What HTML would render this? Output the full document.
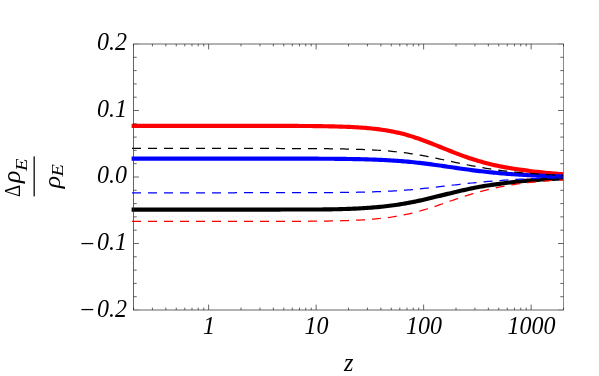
<!DOCTYPE html>
<html><head><meta charset="utf-8"><title>plot</title>
<style>
html,body{margin:0;padding:0;background:#fff;}
body{width:599px;height:376px;overflow:hidden;position:relative;font-family:"Liberation Serif",serif;}
svg{position:absolute;left:0;top:0;display:block;}
.t,.t text{font-family:"Liberation Serif",serif;}
</style>
</head><body>
<svg width="599" height="376" viewBox="0 0 599 376">
<defs><filter id="g" filterUnits="userSpaceOnUse" x="0" y="0" width="599" height="376"><feOffset dx="0" dy="0"/></filter></defs>
<rect x="0" y="0" width="599" height="376" fill="#fff"/>
<g fill="none" stroke-linejoin="round" stroke-linecap="butt">
<path d="M131.60,209.65 L133.60,209.65 L135.60,209.65 L137.60,209.65 L139.60,209.65 L141.60,209.65 L143.60,209.65 L145.60,209.65 L147.60,209.65 L149.60,209.65 L151.60,209.65 L153.60,209.65 L155.60,209.65 L157.60,209.65 L159.60,209.65 L161.60,209.65 L163.60,209.65 L165.60,209.65 L167.60,209.65 L169.60,209.65 L171.60,209.65 L173.60,209.65 L175.60,209.65 L177.60,209.65 L179.60,209.65 L181.60,209.65 L183.60,209.65 L185.60,209.65 L187.60,209.65 L189.60,209.65 L191.60,209.65 L193.60,209.65 L195.60,209.65 L197.60,209.65 L199.60,209.64 L201.60,209.64 L203.60,209.64 L205.60,209.64 L207.60,209.64 L209.60,209.64 L211.60,209.64 L213.60,209.64 L215.60,209.64 L217.60,209.64 L219.60,209.64 L221.60,209.64 L223.60,209.64 L225.60,209.64 L227.60,209.64 L229.60,209.63 L231.60,209.63 L233.60,209.63 L235.60,209.63 L237.60,209.63 L239.60,209.63 L241.60,209.63 L243.60,209.62 L245.60,209.62 L247.60,209.62 L249.60,209.62 L251.60,209.62 L253.60,209.61 L255.60,209.61 L257.60,209.61 L259.60,209.60 L261.60,209.60 L263.60,209.60 L265.60,209.59 L267.60,209.59 L269.60,209.58 L271.60,209.58 L273.60,209.57 L275.60,209.57 L277.60,209.56 L279.60,209.56 L281.60,209.55 L283.60,209.54 L285.60,209.54 L287.60,209.54 L289.60,209.54 L291.60,209.53 L293.60,209.53 L295.60,209.53 L297.60,209.53 L299.60,209.53 L301.60,209.53 L303.60,209.53 L305.60,209.53 L307.60,209.52 L309.60,209.52 L311.60,209.52 L313.60,209.51 L315.60,209.50 L317.60,209.49 L319.60,209.48 L321.60,209.46 L323.60,209.44 L325.60,209.42 L327.60,209.39 L329.60,209.36 L331.60,209.33 L333.60,209.29 L335.60,209.25 L337.60,209.20 L339.60,209.15 L341.60,209.09 L343.60,209.03 L345.60,208.97 L347.60,208.90 L349.60,208.82 L351.60,208.74 L353.60,208.66 L355.60,208.56 L357.60,208.47 L359.60,208.36 L361.60,208.25 L363.60,208.14 L365.60,208.01 L367.60,207.88 L369.60,207.74 L371.60,207.59 L373.60,207.43 L375.60,207.26 L377.60,207.08 L379.60,206.90 L381.60,206.70 L383.60,206.49 L385.60,206.27 L387.60,206.03 L389.60,205.79 L391.60,205.53 L393.60,205.27 L395.60,204.99 L397.60,204.69 L399.60,204.39 L401.60,204.07 L403.60,203.73 L405.60,203.38 L407.60,203.02 L409.60,202.65 L411.60,202.26 L413.60,201.86 L415.60,201.45 L417.60,201.03 L419.60,200.60 L421.60,200.15 L423.60,199.70 L425.60,199.24 L427.60,198.77 L429.60,198.30 L431.60,197.82 L433.60,197.33 L435.60,196.85 L437.60,196.35 L439.60,195.86 L441.60,195.37 L443.60,194.88 L445.60,194.38 L447.60,193.89 L449.60,193.40 L451.60,192.92 L453.60,192.44 L455.60,191.96 L457.60,191.49 L459.60,191.02 L461.60,190.56 L463.60,190.11 L465.60,189.67 L467.60,189.24 L469.60,188.81 L471.60,188.39 L473.60,187.99 L475.60,187.59 L477.60,187.20 L479.60,186.82 L481.60,186.46 L483.60,186.12 L485.60,185.80 L487.60,185.49 L489.60,185.20 L491.60,184.92 L493.60,184.65 L495.60,184.38 L497.60,184.11 L499.60,183.84 L501.60,183.56 L503.60,183.30 L505.60,183.04 L507.60,182.79 L509.60,182.55 L511.60,182.32 L513.60,182.09 L515.60,181.87 L517.60,181.66 L519.60,181.46 L521.60,181.26 L523.60,181.06 L525.60,180.87 L527.60,180.68 L529.60,180.50 L531.60,180.33 L533.60,180.16 L535.60,179.99 L537.60,179.84 L539.60,179.69 L541.60,179.55 L543.60,179.41 L545.60,179.28 L547.60,179.16 L549.60,179.04 L551.60,178.92 L553.60,178.81 L555.60,178.70 L557.60,178.60 L559.60,178.50 L561.60,178.41 L563.20,178.33" stroke="#000" stroke-width="4.15"/>
<path d="M131.60,125.80 L133.60,125.80 L135.60,125.80 L137.60,125.80 L139.60,125.80 L141.60,125.80 L143.60,125.80 L145.60,125.80 L147.60,125.80 L149.60,125.80 L151.60,125.80 L153.60,125.80 L155.60,125.80 L157.60,125.80 L159.60,125.80 L161.60,125.80 L163.60,125.80 L165.60,125.80 L167.60,125.80 L169.60,125.80 L171.60,125.80 L173.60,125.80 L175.60,125.80 L177.60,125.80 L179.60,125.80 L181.60,125.80 L183.60,125.80 L185.60,125.80 L187.60,125.80 L189.60,125.80 L191.60,125.80 L193.60,125.80 L195.60,125.80 L197.60,125.80 L199.60,125.80 L201.60,125.80 L203.60,125.80 L205.60,125.80 L207.60,125.80 L209.60,125.80 L211.60,125.80 L213.60,125.80 L215.60,125.80 L217.60,125.81 L219.60,125.81 L221.60,125.81 L223.60,125.81 L225.60,125.81 L227.60,125.81 L229.60,125.81 L231.60,125.81 L233.60,125.81 L235.60,125.81 L237.60,125.81 L239.60,125.81 L241.60,125.81 L243.60,125.82 L245.60,125.82 L247.60,125.82 L249.60,125.82 L251.60,125.82 L253.60,125.82 L255.60,125.82 L257.60,125.83 L259.60,125.83 L261.60,125.83 L263.60,125.83 L265.60,125.84 L267.60,125.84 L269.60,125.84 L271.60,125.85 L273.60,125.85 L275.60,125.86 L277.60,125.86 L279.60,125.87 L281.60,125.87 L283.60,125.88 L285.60,125.88 L287.60,125.89 L289.60,125.90 L291.60,125.91 L293.60,125.92 L295.60,125.93 L297.60,125.94 L299.60,125.95 L301.60,125.96 L303.60,125.98 L305.60,125.99 L307.60,126.01 L309.60,126.03 L311.60,126.05 L313.60,126.07 L315.60,126.09 L317.60,126.11 L319.60,126.14 L321.60,126.17 L323.60,126.20 L325.60,126.23 L327.60,126.27 L329.60,126.31 L331.60,126.35 L333.60,126.40 L335.60,126.45 L337.60,126.51 L339.60,126.56 L341.60,126.63 L343.60,126.70 L345.60,126.77 L347.60,126.85 L349.60,126.94 L351.60,127.04 L353.60,127.14 L355.60,127.25 L357.60,127.36 L359.60,127.49 L361.60,127.63 L363.60,127.78 L365.60,127.94 L367.60,128.11 L369.60,128.29 L371.60,128.49 L373.60,128.70 L375.60,128.92 L377.60,129.16 L379.60,129.42 L381.60,129.70 L383.60,129.99 L385.60,130.30 L387.60,130.63 L389.60,130.98 L391.60,131.36 L393.60,131.75 L395.60,132.17 L397.60,132.61 L399.60,133.07 L401.60,133.55 L403.60,134.07 L405.60,134.60 L407.60,135.17 L409.60,135.76 L411.60,136.37 L413.60,137.00 L415.60,137.66 L417.60,138.33 L419.60,139.03 L421.60,139.74 L423.60,140.47 L425.60,141.21 L427.60,141.97 L429.60,142.74 L431.60,143.52 L433.60,144.31 L435.60,145.11 L437.60,145.91 L439.60,146.72 L441.60,147.52 L443.60,148.33 L445.60,149.14 L447.60,149.95 L449.60,150.75 L451.60,151.55 L453.60,152.34 L455.60,153.11 L457.60,153.88 L459.60,154.63 L461.60,155.36 L463.60,156.09 L465.60,156.80 L467.60,157.49 L469.60,158.17 L471.60,158.83 L473.60,159.47 L475.60,160.09 L477.60,160.70 L479.60,161.29 L481.60,161.86 L483.60,162.41 L485.60,162.95 L487.60,163.47 L489.60,163.97 L491.60,164.46 L493.60,164.93 L495.60,165.38 L497.60,165.81 L499.60,166.23 L501.60,166.63 L503.60,167.01 L505.60,167.37 L507.60,167.73 L509.60,168.06 L511.60,168.39 L513.60,168.70 L515.60,169.00 L517.60,169.30 L519.60,169.58 L521.60,169.86 L523.60,170.13 L525.60,170.41 L527.60,170.68 L529.60,170.94 L531.60,171.20 L533.60,171.45 L535.60,171.69 L537.60,171.92 L539.60,172.15 L541.60,172.36 L543.60,172.56 L545.60,172.76 L547.60,172.95 L549.60,173.14 L551.60,173.32 L553.60,173.49 L555.60,173.65 L557.60,173.81 L559.60,173.97 L561.60,174.11 L563.20,174.23" stroke="#f00" stroke-width="4.15"/>
<path d="M131.60,158.55 L133.60,158.55 L135.60,158.55 L137.60,158.55 L139.60,158.55 L141.60,158.55 L143.60,158.55 L145.60,158.55 L147.60,158.55 L149.60,158.55 L151.60,158.55 L153.60,158.55 L155.60,158.55 L157.60,158.55 L159.60,158.55 L161.60,158.55 L163.60,158.55 L165.60,158.55 L167.60,158.55 L169.60,158.55 L171.60,158.55 L173.60,158.55 L175.60,158.55 L177.60,158.55 L179.60,158.55 L181.60,158.55 L183.60,158.55 L185.60,158.55 L187.60,158.55 L189.60,158.55 L191.60,158.55 L193.60,158.55 L195.60,158.55 L197.60,158.55 L199.60,158.55 L201.60,158.55 L203.60,158.55 L205.60,158.55 L207.60,158.55 L209.60,158.55 L211.60,158.55 L213.60,158.55 L215.60,158.55 L217.60,158.55 L219.60,158.55 L221.60,158.55 L223.60,158.55 L225.60,158.55 L227.60,158.55 L229.60,158.56 L231.60,158.56 L233.60,158.56 L235.60,158.56 L237.60,158.56 L239.60,158.56 L241.60,158.56 L243.60,158.56 L245.60,158.56 L247.60,158.56 L249.60,158.56 L251.60,158.56 L253.60,158.56 L255.60,158.56 L257.60,158.56 L259.60,158.57 L261.60,158.57 L263.60,158.57 L265.60,158.57 L267.60,158.57 L269.60,158.57 L271.60,158.57 L273.60,158.58 L275.60,158.58 L277.60,158.58 L279.60,158.58 L281.60,158.59 L283.60,158.59 L285.60,158.59 L287.60,158.59 L289.60,158.60 L291.60,158.60 L293.60,158.61 L295.60,158.61 L297.60,158.61 L299.60,158.62 L301.60,158.62 L303.60,158.63 L305.60,158.64 L307.60,158.64 L309.60,158.65 L311.60,158.66 L313.60,158.67 L315.60,158.68 L317.60,158.69 L319.60,158.70 L321.60,158.71 L323.60,158.72 L325.60,158.73 L327.60,158.75 L329.60,158.76 L331.60,158.78 L333.60,158.80 L335.60,158.81 L337.60,158.83 L339.60,158.86 L341.60,158.88 L343.60,158.90 L345.60,158.93 L347.60,158.96 L349.60,158.99 L351.60,159.02 L353.60,159.06 L355.60,159.10 L357.60,159.14 L359.60,159.18 L361.60,159.23 L363.60,159.28 L365.60,159.33 L367.60,159.39 L369.60,159.45 L371.60,159.51 L373.60,159.58 L375.60,159.66 L377.60,159.74 L379.60,159.82 L381.60,159.91 L383.60,160.01 L385.60,160.11 L387.60,160.21 L389.60,160.33 L391.60,160.45 L393.60,160.57 L395.60,160.71 L397.60,160.85 L399.60,161.00 L401.60,161.15 L403.60,161.32 L405.60,161.49 L407.60,161.67 L409.60,161.86 L411.60,162.05 L413.60,162.25 L415.60,162.47 L417.60,162.69 L419.60,162.91 L421.60,163.15 L423.60,163.39 L425.60,163.64 L427.60,163.89 L429.60,164.15 L431.60,164.42 L433.60,164.69 L435.60,164.96 L437.60,165.24 L439.60,165.53 L441.60,165.82 L443.60,166.10 L445.60,166.40 L447.60,166.69 L449.60,166.98 L451.60,167.27 L453.60,167.56 L455.60,167.86 L457.60,168.14 L459.60,168.43 L461.60,168.71 L463.60,169.00 L465.60,169.27 L467.60,169.54 L469.60,169.81 L471.60,170.08 L473.60,170.34 L475.60,170.59 L477.60,170.84 L479.60,171.08 L481.60,171.31 L483.60,171.54 L485.60,171.77 L487.60,171.98 L489.60,172.20 L491.60,172.40 L493.60,172.60 L495.60,172.79 L497.60,172.98 L499.60,173.16 L501.60,173.34 L503.60,173.51 L505.60,173.67 L507.60,173.83 L509.60,173.98 L511.60,174.12 L513.60,174.27 L515.60,174.40 L517.60,174.53 L519.60,174.66 L521.60,174.78 L523.60,174.90 L525.60,175.01 L527.60,175.12 L529.60,175.22 L531.60,175.32 L533.60,175.42 L535.60,175.51 L537.60,175.60 L539.60,175.68 L541.60,175.76 L543.60,175.84 L545.60,175.92 L547.60,175.99 L549.60,176.06 L551.60,176.12 L553.60,176.19 L555.60,176.25 L557.60,176.31 L559.60,176.36 L561.60,176.42 L563.20,176.46" stroke="#00f" stroke-width="4.15"/>
<path d="M132.00,148.45 L134.00,148.45 L136.00,148.45 L138.00,148.45 L140.00,148.45 L142.00,148.45 L144.00,148.45 L146.00,148.45 L148.00,148.45 L150.00,148.45 L152.00,148.45 L154.00,148.45 L156.00,148.45 L158.00,148.45 L160.00,148.45 L162.00,148.45 L164.00,148.45 L166.00,148.45 L168.00,148.45 L170.00,148.45 L172.00,148.45 L174.00,148.45 L176.00,148.45 L178.00,148.45 L180.00,148.45 L182.00,148.45 L184.00,148.45 L186.00,148.45 L188.00,148.45 L190.00,148.45 L192.00,148.45 L194.00,148.45 L196.00,148.45 L198.00,148.45 L200.00,148.45 L202.00,148.45 L204.00,148.45 L206.00,148.45 L208.00,148.45 L210.00,148.45 L212.00,148.45 L214.00,148.45 L216.00,148.45 L218.00,148.45 L220.00,148.45 L222.00,148.46 L224.00,148.46 L226.00,148.46 L228.00,148.46 L230.00,148.46 L232.00,148.46 L234.00,148.46 L236.00,148.46 L238.00,148.46 L240.00,148.46 L242.00,148.46 L244.00,148.46 L246.00,148.46 L248.00,148.46 L250.00,148.46 L252.00,148.47 L254.00,148.47 L256.00,148.47 L258.00,148.47 L260.00,148.47 L262.00,148.47 L264.00,148.48 L266.00,148.48 L268.00,148.48 L270.00,148.48 L272.00,148.48 L274.00,148.49 L276.00,148.49 L278.00,148.49 L280.00,148.50 L282.00,148.50 L284.00,148.50 L286.00,148.51 L288.00,148.51 L290.00,148.52 L292.00,148.52 L294.00,148.53 L296.00,148.54 L298.00,148.54 L300.00,148.55 L302.00,148.56 L304.00,148.57 L306.00,148.58 L308.00,148.59 L310.00,148.60 L312.00,148.61 L314.00,148.62 L316.00,148.63 L318.00,148.65 L320.00,148.66 L322.00,148.68 L324.00,148.70 L326.00,148.72 L328.00,148.74 L330.00,148.76 L332.00,148.79 L334.00,148.81 L336.00,148.84 L338.00,148.87 L340.00,148.90 L342.00,148.94 L344.00,148.98 L346.00,149.02 L348.00,149.06 L350.00,149.11 L352.00,149.16 L354.00,149.21 L356.00,149.27 L358.00,149.33 L360.00,149.40 L362.00,149.47 L364.00,149.55 L366.00,149.63 L368.00,149.72 L370.00,149.81 L372.00,149.91 L374.00,150.02 L376.00,150.13 L378.00,150.25 L380.00,150.38 L382.00,150.52 L384.00,150.67 L386.00,150.82 L388.00,150.99 L390.00,151.16 L392.00,151.35 L394.00,151.54 L396.00,151.75 L398.00,151.96 L400.00,152.19 L402.00,152.43 L404.00,152.68 L406.00,152.95 L408.00,153.22 L410.00,153.51 L412.00,153.81 L414.00,154.12 L416.00,154.44 L418.00,154.78 L420.00,155.12 L422.00,155.48 L424.00,155.84 L426.00,156.22 L428.00,156.61 L430.00,157.00 L432.00,157.40 L434.00,157.81 L436.00,158.22 L438.00,158.64 L440.00,159.07 L442.00,159.49 L444.00,159.93 L446.00,160.36 L448.00,160.79 L450.00,161.23 L452.00,161.66 L454.00,162.09 L456.00,162.52 L458.00,162.94 L460.00,163.37 L462.00,163.78 L464.00,164.20 L466.00,164.60 L468.00,165.00 L470.00,165.40 L472.00,165.79 L474.00,166.16 L476.00,166.54 L478.00,166.90 L480.00,167.25 L482.00,167.60 L484.00,167.94 L486.00,168.27 L488.00,168.59 L490.00,168.90 L492.00,169.21 L494.00,169.50 L496.00,169.79 L498.00,170.06 L500.00,170.33 L502.00,170.59 L504.00,170.84 L506.00,171.09 L508.00,171.32 L510.00,171.55 L512.00,171.77 L514.00,171.99 L516.00,172.19 L518.00,172.39 L520.00,172.58 L522.00,172.77 L524.00,172.94 L526.00,173.12 L528.00,173.28 L530.00,173.44 L532.00,173.60 L534.00,173.74 L536.00,173.89 L538.00,174.03 L540.00,174.16 L542.00,174.29 L544.00,174.41 L546.00,174.53 L548.00,174.64 L550.00,174.75 L552.00,174.86 L554.00,174.96 L556.00,175.06 L558.00,175.15 L560.00,175.24 L562.00,175.33 L563.20,175.38" stroke="#000" stroke-width="1.25" stroke-dasharray="9 7"/>
<path d="M132.00,192.75 L134.00,192.75 L136.00,192.75 L138.00,192.75 L140.00,192.75 L142.00,192.75 L144.00,192.75 L146.00,192.75 L148.00,192.75 L150.00,192.75 L152.00,192.75 L154.00,192.75 L156.00,192.75 L158.00,192.75 L160.00,192.75 L162.00,192.75 L164.00,192.75 L166.00,192.75 L168.00,192.75 L170.00,192.75 L172.00,192.75 L174.00,192.75 L176.00,192.75 L178.00,192.75 L180.00,192.75 L182.00,192.75 L184.00,192.75 L186.00,192.75 L188.00,192.75 L190.00,192.75 L192.00,192.75 L194.00,192.75 L196.00,192.75 L198.00,192.75 L200.00,192.75 L202.00,192.75 L204.00,192.75 L206.00,192.75 L208.00,192.75 L210.00,192.75 L212.00,192.75 L214.00,192.75 L216.00,192.75 L218.00,192.75 L220.00,192.75 L222.00,192.75 L224.00,192.75 L226.00,192.75 L228.00,192.75 L230.00,192.75 L232.00,192.75 L234.00,192.75 L236.00,192.74 L238.00,192.74 L240.00,192.74 L242.00,192.74 L244.00,192.74 L246.00,192.74 L248.00,192.74 L250.00,192.74 L252.00,192.74 L254.00,192.74 L256.00,192.74 L258.00,192.74 L260.00,192.74 L262.00,192.74 L264.00,192.73 L266.00,192.73 L268.00,192.73 L270.00,192.73 L272.00,192.73 L274.00,192.73 L276.00,192.73 L278.00,192.72 L280.00,192.72 L282.00,192.72 L284.00,192.72 L286.00,192.72 L288.00,192.71 L290.00,192.71 L292.00,192.71 L294.00,192.70 L296.00,192.70 L298.00,192.69 L300.00,192.69 L302.00,192.69 L304.00,192.68 L306.00,192.67 L308.00,192.67 L310.00,192.66 L312.00,192.66 L314.00,192.65 L316.00,192.64 L318.00,192.63 L320.00,192.62 L322.00,192.61 L324.00,192.60 L326.00,192.59 L328.00,192.58 L330.00,192.56 L332.00,192.55 L334.00,192.53 L336.00,192.52 L338.00,192.50 L340.00,192.48 L342.00,192.46 L344.00,192.43 L346.00,192.41 L348.00,192.38 L350.00,192.36 L352.00,192.32 L354.00,192.29 L356.00,192.26 L358.00,192.22 L360.00,192.18 L362.00,192.14 L364.00,192.09 L366.00,192.04 L368.00,191.99 L370.00,191.93 L372.00,191.87 L374.00,191.81 L376.00,191.74 L378.00,191.67 L380.00,191.59 L382.00,191.51 L384.00,191.42 L386.00,191.33 L388.00,191.23 L390.00,191.13 L392.00,191.02 L394.00,190.91 L396.00,190.79 L398.00,190.66 L400.00,190.53 L402.00,190.39 L404.00,190.24 L406.00,190.09 L408.00,189.93 L410.00,189.76 L412.00,189.59 L414.00,189.41 L416.00,189.23 L418.00,189.04 L420.00,188.84 L422.00,188.64 L424.00,188.44 L426.00,188.22 L428.00,188.01 L430.00,187.79 L432.00,187.57 L434.00,187.34 L436.00,187.11 L438.00,186.88 L440.00,186.65 L442.00,186.41 L444.00,186.18 L446.00,185.94 L448.00,185.70 L450.00,185.47 L452.00,185.23 L454.00,185.00 L456.00,184.77 L458.00,184.53 L460.00,184.31 L462.00,184.08 L464.00,183.86 L466.00,183.64 L468.00,183.42 L470.00,183.21 L472.00,183.00 L474.00,182.79 L476.00,182.59 L478.00,182.39 L480.00,182.20 L482.00,182.01 L484.00,181.83 L486.00,181.65 L488.00,181.47 L490.00,181.30 L492.00,181.13 L494.00,180.97 L496.00,180.81 L498.00,180.66 L500.00,180.51 L502.00,180.36 L504.00,180.22 L506.00,180.08 L508.00,179.95 L510.00,179.82 L512.00,179.70 L514.00,179.57 L516.00,179.46 L518.00,179.34 L520.00,179.23 L522.00,179.13 L524.00,179.02 L526.00,178.92 L528.00,178.82 L530.00,178.73 L532.00,178.64 L534.00,178.55 L536.00,178.47 L538.00,178.38 L540.00,178.31 L542.00,178.23 L544.00,178.15 L546.00,178.08 L548.00,178.01 L550.00,177.94 L552.00,177.88 L554.00,177.82 L556.00,177.76 L558.00,177.70 L560.00,177.64 L562.00,177.59 L563.20,177.55" stroke="#00f" stroke-width="1.25" stroke-dasharray="9 7"/>
<path d="M132.00,221.45 L134.00,221.45 L136.00,221.45 L138.00,221.45 L140.00,221.45 L142.00,221.45 L144.00,221.45 L146.00,221.45 L148.00,221.45 L150.00,221.45 L152.00,221.45 L154.00,221.45 L156.00,221.45 L158.00,221.45 L160.00,221.45 L162.00,221.45 L164.00,221.45 L166.00,221.45 L168.00,221.45 L170.00,221.45 L172.00,221.45 L174.00,221.45 L176.00,221.45 L178.00,221.45 L180.00,221.45 L182.00,221.45 L184.00,221.45 L186.00,221.45 L188.00,221.45 L190.00,221.45 L192.00,221.45 L194.00,221.45 L196.00,221.45 L198.00,221.45 L200.00,221.45 L202.00,221.45 L204.00,221.45 L206.00,221.45 L208.00,221.45 L210.00,221.45 L212.00,221.45 L214.00,221.44 L216.00,221.44 L218.00,221.44 L220.00,221.44 L222.00,221.44 L224.00,221.44 L226.00,221.44 L228.00,221.44 L230.00,221.44 L232.00,221.44 L234.00,221.44 L236.00,221.44 L238.00,221.44 L240.00,221.44 L242.00,221.43 L244.00,221.43 L246.00,221.43 L248.00,221.43 L250.00,221.43 L252.00,221.43 L254.00,221.43 L256.00,221.42 L258.00,221.42 L260.00,221.42 L262.00,221.42 L264.00,221.41 L266.00,221.41 L268.00,221.41 L270.00,221.40 L272.00,221.40 L274.00,221.40 L276.00,221.39 L278.00,221.39 L280.00,221.38 L282.00,221.38 L284.00,221.37 L286.00,221.36 L288.00,221.36 L290.00,221.35 L292.00,221.34 L294.00,221.33 L296.00,221.32 L298.00,221.31 L300.00,221.30 L302.00,221.29 L304.00,221.28 L306.00,221.27 L308.00,221.25 L310.00,221.23 L312.00,221.22 L314.00,221.20 L316.00,221.18 L318.00,221.16 L320.00,221.13 L322.00,221.11 L324.00,221.08 L326.00,221.05 L328.00,221.02 L330.00,220.99 L332.00,220.95 L334.00,220.91 L336.00,220.87 L338.00,220.82 L340.00,220.77 L342.00,220.72 L344.00,220.66 L346.00,220.60 L348.00,220.53 L350.00,220.46 L352.00,220.39 L354.00,220.30 L356.00,220.22 L358.00,220.12 L360.00,220.02 L362.00,219.91 L364.00,219.79 L366.00,219.67 L368.00,219.53 L370.00,219.39 L372.00,219.23 L374.00,219.07 L376.00,218.89 L378.00,218.70 L380.00,218.50 L382.00,218.29 L384.00,218.06 L386.00,217.82 L388.00,217.56 L390.00,217.29 L392.00,217.00 L394.00,216.69 L396.00,216.37 L398.00,216.02 L400.00,215.66 L402.00,215.29 L404.00,214.89 L406.00,214.47 L408.00,214.03 L410.00,213.58 L412.00,213.10 L414.00,212.61 L416.00,212.09 L418.00,211.56 L420.00,211.01 L422.00,210.44 L424.00,209.85 L426.00,209.25 L428.00,208.63 L430.00,208.00 L432.00,207.36 L434.00,206.70 L436.00,206.04 L438.00,205.36 L440.00,204.68 L442.00,203.99 L444.00,203.30 L446.00,202.61 L448.00,201.91 L450.00,201.21 L452.00,200.52 L454.00,199.83 L456.00,199.15 L458.00,198.47 L460.00,197.79 L462.00,197.13 L464.00,196.47 L466.00,195.83 L468.00,195.20 L470.00,194.58 L472.00,193.97 L474.00,193.37 L476.00,192.79 L478.00,192.23 L480.00,191.67 L482.00,191.14 L484.00,190.61 L486.00,190.11 L488.00,189.61 L490.00,189.14 L492.00,188.67 L494.00,188.23 L496.00,187.79 L498.00,187.38 L500.00,186.97 L502.00,186.58 L504.00,186.21 L506.00,185.85 L508.00,185.50 L510.00,185.16 L512.00,184.84 L514.00,184.53 L516.00,184.23 L518.00,183.94 L520.00,183.67 L522.00,183.40 L524.00,183.15 L526.00,182.90 L528.00,182.67 L530.00,182.44 L532.00,182.23 L534.00,182.02 L536.00,181.82 L538.00,181.63 L540.00,181.45 L542.00,181.27 L544.00,181.10 L546.00,180.94 L548.00,180.79 L550.00,180.64 L552.00,180.50 L554.00,180.36 L556.00,180.23 L558.00,180.11 L560.00,179.99 L562.00,179.87 L563.20,179.81" stroke="#f00" stroke-width="1.25" stroke-dasharray="9 7"/>
</g>
<line x1="133.50" y1="43.65" x2="133.50" y2="310.35" stroke="#222" stroke-width="0.70"/>
<line x1="563.50" y1="43.65" x2="563.50" y2="310.35" stroke="#585858" stroke-width="0.70"/>
<line x1="133.85" y1="44.00" x2="563.15" y2="44.00" stroke="#222" stroke-width="0.70"/>
<line x1="133.85" y1="310.00" x2="563.15" y2="310.00" stroke="#222" stroke-width="0.70"/>
<line x1="133.50" y1="310.00" x2="133.50" y2="307.60" stroke="#222" stroke-width="0.70"/>
<line x1="133.50" y1="44.00" x2="133.50" y2="46.40" stroke="#222" stroke-width="0.70"/>
<line x1="152.43" y1="310.00" x2="152.43" y2="307.60" stroke="#222" stroke-width="0.70"/>
<line x1="152.43" y1="44.00" x2="152.43" y2="46.40" stroke="#222" stroke-width="0.70"/>
<line x1="165.86" y1="310.00" x2="165.86" y2="307.60" stroke="#222" stroke-width="0.70"/>
<line x1="165.86" y1="44.00" x2="165.86" y2="46.40" stroke="#222" stroke-width="0.70"/>
<line x1="176.28" y1="310.00" x2="176.28" y2="307.60" stroke="#222" stroke-width="0.70"/>
<line x1="176.28" y1="44.00" x2="176.28" y2="46.40" stroke="#222" stroke-width="0.70"/>
<line x1="184.79" y1="310.00" x2="184.79" y2="307.60" stroke="#222" stroke-width="0.70"/>
<line x1="184.79" y1="44.00" x2="184.79" y2="46.40" stroke="#222" stroke-width="0.70"/>
<line x1="191.99" y1="310.00" x2="191.99" y2="307.60" stroke="#222" stroke-width="0.70"/>
<line x1="191.99" y1="44.00" x2="191.99" y2="46.40" stroke="#222" stroke-width="0.70"/>
<line x1="198.22" y1="310.00" x2="198.22" y2="307.60" stroke="#222" stroke-width="0.70"/>
<line x1="198.22" y1="44.00" x2="198.22" y2="46.40" stroke="#222" stroke-width="0.70"/>
<line x1="203.72" y1="310.00" x2="203.72" y2="307.60" stroke="#222" stroke-width="0.70"/>
<line x1="203.72" y1="44.00" x2="203.72" y2="46.40" stroke="#222" stroke-width="0.70"/>
<line x1="208.64" y1="310.00" x2="208.64" y2="304.60" stroke="#222" stroke-width="0.70"/>
<line x1="208.64" y1="44.00" x2="208.64" y2="49.40" stroke="#222" stroke-width="0.70"/>
<line x1="241.00" y1="310.00" x2="241.00" y2="307.60" stroke="#222" stroke-width="0.70"/>
<line x1="241.00" y1="44.00" x2="241.00" y2="46.40" stroke="#222" stroke-width="0.70"/>
<line x1="259.93" y1="310.00" x2="259.93" y2="307.60" stroke="#222" stroke-width="0.70"/>
<line x1="259.93" y1="44.00" x2="259.93" y2="46.40" stroke="#222" stroke-width="0.70"/>
<line x1="273.36" y1="310.00" x2="273.36" y2="307.60" stroke="#222" stroke-width="0.70"/>
<line x1="273.36" y1="44.00" x2="273.36" y2="46.40" stroke="#222" stroke-width="0.70"/>
<line x1="283.78" y1="310.00" x2="283.78" y2="307.60" stroke="#222" stroke-width="0.70"/>
<line x1="283.78" y1="44.00" x2="283.78" y2="46.40" stroke="#222" stroke-width="0.70"/>
<line x1="292.29" y1="310.00" x2="292.29" y2="307.60" stroke="#222" stroke-width="0.70"/>
<line x1="292.29" y1="44.00" x2="292.29" y2="46.40" stroke="#222" stroke-width="0.70"/>
<line x1="299.49" y1="310.00" x2="299.49" y2="307.60" stroke="#222" stroke-width="0.70"/>
<line x1="299.49" y1="44.00" x2="299.49" y2="46.40" stroke="#222" stroke-width="0.70"/>
<line x1="305.72" y1="310.00" x2="305.72" y2="307.60" stroke="#222" stroke-width="0.70"/>
<line x1="305.72" y1="44.00" x2="305.72" y2="46.40" stroke="#222" stroke-width="0.70"/>
<line x1="311.22" y1="310.00" x2="311.22" y2="307.60" stroke="#222" stroke-width="0.70"/>
<line x1="311.22" y1="44.00" x2="311.22" y2="46.40" stroke="#222" stroke-width="0.70"/>
<line x1="316.14" y1="310.00" x2="316.14" y2="304.60" stroke="#222" stroke-width="0.70"/>
<line x1="316.14" y1="44.00" x2="316.14" y2="49.40" stroke="#222" stroke-width="0.70"/>
<line x1="348.50" y1="310.00" x2="348.50" y2="307.60" stroke="#222" stroke-width="0.70"/>
<line x1="348.50" y1="44.00" x2="348.50" y2="46.40" stroke="#222" stroke-width="0.70"/>
<line x1="367.43" y1="310.00" x2="367.43" y2="307.60" stroke="#222" stroke-width="0.70"/>
<line x1="367.43" y1="44.00" x2="367.43" y2="46.40" stroke="#222" stroke-width="0.70"/>
<line x1="380.86" y1="310.00" x2="380.86" y2="307.60" stroke="#222" stroke-width="0.70"/>
<line x1="380.86" y1="44.00" x2="380.86" y2="46.40" stroke="#222" stroke-width="0.70"/>
<line x1="391.28" y1="310.00" x2="391.28" y2="307.60" stroke="#222" stroke-width="0.70"/>
<line x1="391.28" y1="44.00" x2="391.28" y2="46.40" stroke="#222" stroke-width="0.70"/>
<line x1="399.79" y1="310.00" x2="399.79" y2="307.60" stroke="#222" stroke-width="0.70"/>
<line x1="399.79" y1="44.00" x2="399.79" y2="46.40" stroke="#222" stroke-width="0.70"/>
<line x1="406.99" y1="310.00" x2="406.99" y2="307.60" stroke="#222" stroke-width="0.70"/>
<line x1="406.99" y1="44.00" x2="406.99" y2="46.40" stroke="#222" stroke-width="0.70"/>
<line x1="413.22" y1="310.00" x2="413.22" y2="307.60" stroke="#222" stroke-width="0.70"/>
<line x1="413.22" y1="44.00" x2="413.22" y2="46.40" stroke="#222" stroke-width="0.70"/>
<line x1="418.72" y1="310.00" x2="418.72" y2="307.60" stroke="#222" stroke-width="0.70"/>
<line x1="418.72" y1="44.00" x2="418.72" y2="46.40" stroke="#222" stroke-width="0.70"/>
<line x1="423.64" y1="310.00" x2="423.64" y2="304.60" stroke="#222" stroke-width="0.70"/>
<line x1="423.64" y1="44.00" x2="423.64" y2="49.40" stroke="#222" stroke-width="0.70"/>
<line x1="456.00" y1="310.00" x2="456.00" y2="307.60" stroke="#222" stroke-width="0.70"/>
<line x1="456.00" y1="44.00" x2="456.00" y2="46.40" stroke="#222" stroke-width="0.70"/>
<line x1="474.93" y1="310.00" x2="474.93" y2="307.60" stroke="#222" stroke-width="0.70"/>
<line x1="474.93" y1="44.00" x2="474.93" y2="46.40" stroke="#222" stroke-width="0.70"/>
<line x1="488.36" y1="310.00" x2="488.36" y2="307.60" stroke="#222" stroke-width="0.70"/>
<line x1="488.36" y1="44.00" x2="488.36" y2="46.40" stroke="#222" stroke-width="0.70"/>
<line x1="498.78" y1="310.00" x2="498.78" y2="307.60" stroke="#222" stroke-width="0.70"/>
<line x1="498.78" y1="44.00" x2="498.78" y2="46.40" stroke="#222" stroke-width="0.70"/>
<line x1="507.29" y1="310.00" x2="507.29" y2="307.60" stroke="#222" stroke-width="0.70"/>
<line x1="507.29" y1="44.00" x2="507.29" y2="46.40" stroke="#222" stroke-width="0.70"/>
<line x1="514.49" y1="310.00" x2="514.49" y2="307.60" stroke="#222" stroke-width="0.70"/>
<line x1="514.49" y1="44.00" x2="514.49" y2="46.40" stroke="#222" stroke-width="0.70"/>
<line x1="520.72" y1="310.00" x2="520.72" y2="307.60" stroke="#222" stroke-width="0.70"/>
<line x1="520.72" y1="44.00" x2="520.72" y2="46.40" stroke="#222" stroke-width="0.70"/>
<line x1="526.22" y1="310.00" x2="526.22" y2="307.60" stroke="#222" stroke-width="0.70"/>
<line x1="526.22" y1="44.00" x2="526.22" y2="46.40" stroke="#222" stroke-width="0.70"/>
<line x1="531.14" y1="310.00" x2="531.14" y2="304.60" stroke="#222" stroke-width="0.70"/>
<line x1="531.14" y1="44.00" x2="531.14" y2="49.40" stroke="#222" stroke-width="0.70"/>
<line x1="563.50" y1="310.00" x2="563.50" y2="307.60" stroke="#222" stroke-width="0.70"/>
<line x1="563.50" y1="44.00" x2="563.50" y2="46.40" stroke="#222" stroke-width="0.70"/>
<line x1="133.50" y1="310.00" x2="138.90" y2="310.00" stroke="#222" stroke-width="0.70" opacity="0.3"/>
<line x1="563.50" y1="310.00" x2="558.10" y2="310.00" stroke="#222" stroke-width="0.70" opacity="0.3"/>
<line x1="133.50" y1="296.70" x2="136.70" y2="296.70" stroke="#222" stroke-width="0.70"/>
<line x1="563.50" y1="296.70" x2="560.30" y2="296.70" stroke="#222" stroke-width="0.70"/>
<line x1="133.50" y1="283.40" x2="136.70" y2="283.40" stroke="#222" stroke-width="0.70"/>
<line x1="563.50" y1="283.40" x2="560.30" y2="283.40" stroke="#222" stroke-width="0.70"/>
<line x1="133.50" y1="270.10" x2="136.70" y2="270.10" stroke="#222" stroke-width="0.70"/>
<line x1="563.50" y1="270.10" x2="560.30" y2="270.10" stroke="#222" stroke-width="0.70"/>
<line x1="133.50" y1="256.80" x2="136.70" y2="256.80" stroke="#222" stroke-width="0.70"/>
<line x1="563.50" y1="256.80" x2="560.30" y2="256.80" stroke="#222" stroke-width="0.70"/>
<line x1="133.50" y1="243.50" x2="138.90" y2="243.50" stroke="#222" stroke-width="0.70"/>
<line x1="563.50" y1="243.50" x2="558.10" y2="243.50" stroke="#222" stroke-width="0.70"/>
<line x1="133.50" y1="230.20" x2="136.70" y2="230.20" stroke="#222" stroke-width="0.70"/>
<line x1="563.50" y1="230.20" x2="560.30" y2="230.20" stroke="#222" stroke-width="0.70"/>
<line x1="133.50" y1="216.90" x2="136.70" y2="216.90" stroke="#222" stroke-width="0.70"/>
<line x1="563.50" y1="216.90" x2="560.30" y2="216.90" stroke="#222" stroke-width="0.70"/>
<line x1="133.50" y1="203.60" x2="136.70" y2="203.60" stroke="#222" stroke-width="0.70"/>
<line x1="563.50" y1="203.60" x2="560.30" y2="203.60" stroke="#222" stroke-width="0.70"/>
<line x1="133.50" y1="190.30" x2="136.70" y2="190.30" stroke="#222" stroke-width="0.70"/>
<line x1="563.50" y1="190.30" x2="560.30" y2="190.30" stroke="#222" stroke-width="0.70"/>
<line x1="133.50" y1="177.00" x2="138.90" y2="177.00" stroke="#222" stroke-width="0.70"/>
<line x1="563.50" y1="177.00" x2="558.10" y2="177.00" stroke="#222" stroke-width="0.70"/>
<line x1="133.50" y1="163.70" x2="136.70" y2="163.70" stroke="#222" stroke-width="0.70"/>
<line x1="563.50" y1="163.70" x2="560.30" y2="163.70" stroke="#222" stroke-width="0.70"/>
<line x1="133.50" y1="150.40" x2="136.70" y2="150.40" stroke="#222" stroke-width="0.70"/>
<line x1="563.50" y1="150.40" x2="560.30" y2="150.40" stroke="#222" stroke-width="0.70"/>
<line x1="133.50" y1="137.10" x2="136.70" y2="137.10" stroke="#222" stroke-width="0.70"/>
<line x1="563.50" y1="137.10" x2="560.30" y2="137.10" stroke="#222" stroke-width="0.70"/>
<line x1="133.50" y1="123.80" x2="136.70" y2="123.80" stroke="#222" stroke-width="0.70"/>
<line x1="563.50" y1="123.80" x2="560.30" y2="123.80" stroke="#222" stroke-width="0.70"/>
<line x1="133.50" y1="110.50" x2="138.90" y2="110.50" stroke="#222" stroke-width="0.70"/>
<line x1="563.50" y1="110.50" x2="558.10" y2="110.50" stroke="#222" stroke-width="0.70"/>
<line x1="133.50" y1="97.20" x2="136.70" y2="97.20" stroke="#222" stroke-width="0.70"/>
<line x1="563.50" y1="97.20" x2="560.30" y2="97.20" stroke="#222" stroke-width="0.70"/>
<line x1="133.50" y1="83.90" x2="136.70" y2="83.90" stroke="#222" stroke-width="0.70"/>
<line x1="563.50" y1="83.90" x2="560.30" y2="83.90" stroke="#222" stroke-width="0.70"/>
<line x1="133.50" y1="70.60" x2="136.70" y2="70.60" stroke="#222" stroke-width="0.70"/>
<line x1="563.50" y1="70.60" x2="560.30" y2="70.60" stroke="#222" stroke-width="0.70"/>
<line x1="133.50" y1="57.30" x2="136.70" y2="57.30" stroke="#222" stroke-width="0.70"/>
<line x1="563.50" y1="57.30" x2="560.30" y2="57.30" stroke="#222" stroke-width="0.70"/>
<line x1="133.50" y1="44.00" x2="138.90" y2="44.00" stroke="#222" stroke-width="0.70" opacity="0.3"/>
<line x1="563.50" y1="44.00" x2="558.10" y2="44.00" stroke="#222" stroke-width="0.70" opacity="0.3"/>
<g class="t" filter="url(#g)" font-style="italic" font-size="25.4" fill="#000">
<text transform="translate(127.00,50.40) scale(0.945,1)" text-anchor="end">0.2</text>
<text transform="translate(127.00,117.10) scale(0.945,1)" text-anchor="end">0.1</text>
<text transform="translate(127.00,183.10) scale(0.945,1)" text-anchor="end">0.0</text>
<text transform="translate(78.50,251.60) scale(1.000,1)" text-anchor="start">−</text>
<text transform="translate(127.00,250.10) scale(0.945,1)" text-anchor="end">0.1</text>
<text transform="translate(78.50,318.10) scale(1.000,1)" text-anchor="start">−</text>
<text transform="translate(127.00,316.60) scale(0.945,1)" text-anchor="end">0.2</text>
<text transform="translate(208.94,334.20) scale(0.945,1)" text-anchor="middle">1</text>
<text transform="translate(316.44,334.20) scale(0.945,1)" text-anchor="middle">10</text>
<text transform="translate(423.94,334.20) scale(0.945,1)" text-anchor="middle">100</text>
<text transform="translate(531.44,334.20) scale(0.945,1)" text-anchor="middle">1000</text>
<text transform="translate(348.60,371.20) scale(0.950,1)" text-anchor="middle">z</text>
</g>
<g class="t" filter="url(#g)" fill="#000"><g transform="translate(34,176.5) rotate(-90)">
<text transform="translate(-20.46,-13.80) scale(0.808,1.000)" font-size="23.6" font-style="normal">Δ</text>
<text transform="translate(-6.60,-13.80) scale(1.090,1.030)" font-size="23.6" font-style="italic">ρ</text>
<text transform="translate(5.60,-6.85) scale(1.200,1.030)" font-size="17.0" font-style="italic">E</text>
<rect x="-19.9" y="-0.45" width="40.0" height="1.25"/>
<text transform="translate(-11.70,25.90) scale(1.090,1.000)" font-size="23.6" font-style="italic">ρ</text>
<text transform="translate(0.00,29.30) scale(1.200,1.000)" font-size="17.0" font-style="italic">E</text>
</g></g>
</svg>
</body></html>
